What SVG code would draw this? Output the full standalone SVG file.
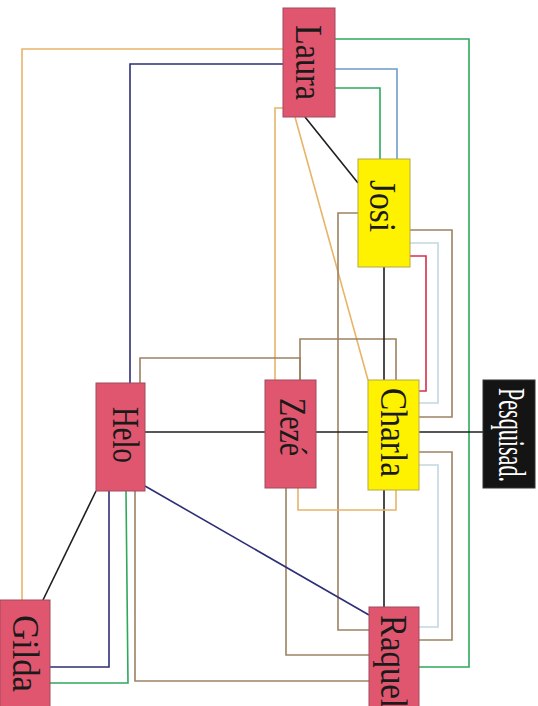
<svg xmlns="http://www.w3.org/2000/svg" width="538" height="706" viewBox="0 0 538 706">
<style>
.pink{fill:#E0566F;stroke:#A04A5C;stroke-width:1}
.yel{fill:#FFF200;stroke:#B8A945;stroke-width:1}
.blk{fill:#141414;stroke:#333;stroke-width:1}
.t{font-family:"Liberation Serif","Times New Roman",serif;font-size:38px;fill:#1a1a1a}
.tw{fill:#ffffff}
#edges path{fill:none;stroke-width:1.6}
.or{stroke:#E8B468}
.nv{stroke:#2E2E78}
.gr{stroke:#2FA85C}
.bl{stroke:#6F9BCB}
.lb{stroke:#C2D8E0}
.rd{stroke:#D3304C}
.br{stroke:#9C8262}
.k{stroke:#1E1E1E}
</style>
<rect width="538" height="706" fill="#ffffff"/>
<g id="edges">
<path class="gr" d="M335,39 H469 V667 H419"/>
<path class="bl" d="M335,69 H397 V159"/>
<path class="gr" d="M335,88 H380 V159"/>
<path class="k" d="M305,117 L358,183"/>
<path class="or" d="M295,117 L368,380"/>
<path class="or" d="M283,108 H275 V380"/>
<path class="or" d="M283,49 H22 V600"/>
<path class="nv" d="M283,64 H130 V383"/>
<path class="br" d="M140,383 V358 H300 V380"/>
<path class="br" d="M300,380 V339 H396 V380"/>
<path class="br" d="M358,213 H338 V630 H369"/>
<path class="br" d="M410,230 H452 V417 H419"/>
<path class="lb" d="M410,243 H438 V403 H419"/>
<path class="rd" d="M410,256 H426 V391 H419"/>
<path class="k" d="M384,267 V380"/>
<path class="k" d="M145,432 H265"/>
<path class="k" d="M316,432 H368"/>
<path class="k" d="M419,432 H483"/>
<path class="br" d="M419,452 H452 V640 H419"/>
<path class="lb" d="M419,465 H438 V627 H419"/>
<path class="k" d="M384,490 V607"/>
<path class="or" d="M298,488 V510 H396 V490"/>
<path class="br" d="M286,488 V655 H369"/>
<path class="br" d="M135,491 V681 H369"/>
<path class="gr" d="M126,491 L128,683 H50"/>
<path class="nv" d="M109,491 V667 H50"/>
<path class="k" d="M96,491 L43,600"/>
<path class="nv" d="M145,486 L369,615"/>
</g>
<g id="laura">
<rect class="pink" x="283" y="8" width="52" height="109"/>
<text class="t" transform="translate(296,25) rotate(90)" textLength="75" lengthAdjust="spacingAndGlyphs">Laura</text>
</g>
<g id="josi">
<rect class="yel" x="358" y="159" width="52" height="108"/>
<text class="t" transform="translate(370,180) rotate(90)" textLength="52" lengthAdjust="spacingAndGlyphs">Josi</text>
</g>
<g id="charla">
<rect class="yel" x="368" y="380" width="51" height="110"/>
<text class="t" transform="translate(381,388) rotate(90)" textLength="89" lengthAdjust="spacingAndGlyphs">Charla</text>
</g>
<g id="zeze">
<rect class="pink" x="265" y="380" width="51" height="108"/>
<text class="t" transform="translate(280,398) rotate(90)" textLength="58" lengthAdjust="spacingAndGlyphs">Zezé</text>
</g>
<g id="pesquisad">
<rect class="blk" x="483" y="380" width="52" height="108"/>
<text class="t tw" transform="translate(499,388) rotate(90)" textLength="94" lengthAdjust="spacingAndGlyphs">Pesquisad.</text>
</g>
<g id="helo">
<rect class="pink" x="96" y="383" width="49" height="108"/>
<text class="t" transform="translate(113,407) rotate(90)" textLength="56" lengthAdjust="spacingAndGlyphs">Helo</text>
</g>
<g id="raquel">
<rect class="pink" x="369" y="607" width="50" height="110"/>
<text class="t" transform="translate(381,615) rotate(90)" textLength="93" lengthAdjust="spacingAndGlyphs">Raquel</text>
</g>
<g id="gilda">
<rect class="pink" x="0" y="600" width="50" height="110"/>
<text class="t" transform="translate(13,615) rotate(90)" textLength="77" lengthAdjust="spacingAndGlyphs">Gilda</text>
</g>
</svg>
